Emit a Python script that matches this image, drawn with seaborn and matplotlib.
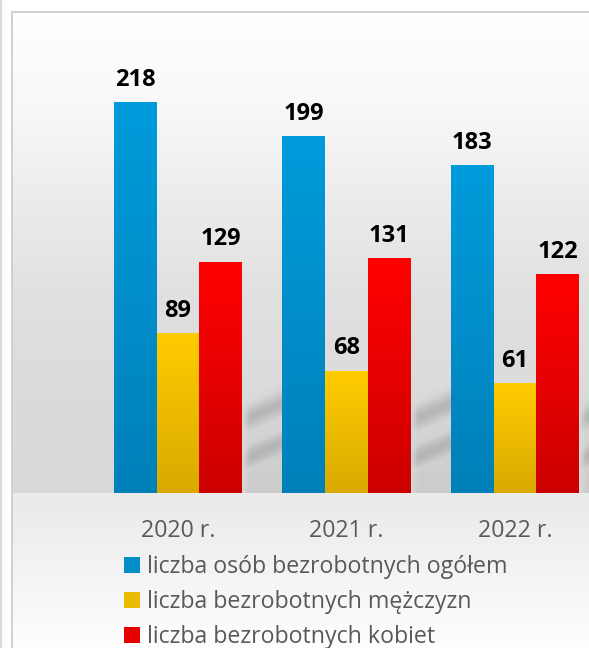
import numpy as np
import pandas as pd
import matplotlib
matplotlib.use("Agg")
import matplotlib.pyplot as plt
import seaborn as sns
from matplotlib.colors import LinearSegmentedColormap
from matplotlib.lines import Line2D
from matplotlib.patches import Patch

# ---------------- data ----------------
years = ["2020 r.", "2021 r.", "2022 r."]
series = ["liczba osób bezrobotnych ogółem",
          "liczba bezrobotnych mężczyzn",
          "liczba bezrobotnych kobiet"]
total = [218, 199, 183]
men = [89, 68, 61]
women = [129, 131, 122]
top_colors = ["#009bdb", "#ffcc00", "#ff0000"]
bottom_colors = ["#0080b9", "#d9a900", "#cc0000"]

df = pd.DataFrame({
    "year": years * 3,
    "series": np.repeat(series, 3),
    "value": total + men + women,
})

sns.set_theme(style="white")
plt.rcParams['font.family'] = ['Open Sans', 'DejaVu Sans']

W, H = 589, 648
fig = plt.figure(figsize=(W / 100, H / 100), dpi=100)
fig.patch.set_facecolor("white")

# background axes (pixel coordinates, y downward)
bg = fig.add_axes([12 / W, 0, 1 - 12 / W, (H - 12) / H])
bg.set_axis_off()

# main axes
ax = fig.add_axes([12 / W, (H - 493) / H, 1 - 12 / W, (493 - 12) / H])
ax.patch.set_alpha(0)
sns.barplot(data=df, x="year", y="value", hue="series", palette=top_colors,
            width=0.76, saturation=1, ax=ax, legend=False)
XL = (-0.985, 2.439)
YL = (0, 481 / 1.789)

grad = np.linspace(0, 1, 256).reshape(-1, 1)
for i, cont in enumerate(ax.containers):
    cmap = LinearSegmentedColormap.from_list(f"g{i}", [bottom_colors[i], top_colors[i]])
    for bar in cont:
        x0, y0 = bar.get_x(), bar.get_y()
        w, h = bar.get_width(), bar.get_height()
        ax.imshow(grad, cmap=cmap, extent=[x0, x0 + w, y0, y0 + h], origin="lower",
                  aspect="auto", zorder=2, clip_path=bar, interpolation="bilinear")
        bar.set_facecolor("none")
        bar.set_edgecolor("none")
    ax.bar_label(cont, labels=[str(int(b.get_height())) for b in cont], padding=8,
                 fontsize=17, fontweight="bold", color="black", zorder=5)

ax.set_xlim(*XL)
ax.set_ylim(*YL)
ax.set_xlabel("")
ax.set_ylabel("")
ax.set_yticks([])
ax.tick_params(axis="x", length=0, pad=19, labelsize=16.7, labelcolor="#595959")
for s in ax.spines.values():
    s.set_visible(False)

# ---------------- background gradient + shadows ----------------
ys = np.arange(12, H) + 0.5
xs = np.arange(12, W) + 0.5
ypts = [12, 100, 200, 300, 400, 493]
vpts = [255, 249, 236, 224, 219, 217]
col = np.where(ys < 493, np.interp(ys, ypts, vpts),
               np.interp(ys, [493, 500, H], [236, 234, 254]))
img = np.repeat(col[:, None], len(xs), axis=1)

# diagonal shadow streaks to the right of each group (derived from bar geometry)
mask = np.zeros_like(img)
XX, YY = np.meshgrid(xs, ys)
for j in range(len(years)):
    rights = []
    base_y = 0
    for cont in ax.containers:
        b = cont[j]
        px, py = ax.transData.transform((b.get_x() + b.get_width(), 0))
        rights.append(px)
        base_y = H - py
    xr = max(rights)
    fade_in = np.clip((XX - xr) / 8.0, 0, 1)
    region = (XX >= xr) & (XX <= xr + 70) & (YY <= base_y)
    for d in (72, 33):
        yline = base_y - d - 0.43 * (XX - xr)
        mask = np.maximum(mask, region * fade_in * np.exp(-0.5 * ((YY - yline) / 8.0) ** 2))
    near = region * fade_in * np.clip(1 - (base_y - YY) / 110, 0, 1) * 0.4
    mask = np.maximum(mask, near)

img = img - 36 * mask
img = np.clip(img, 0, 255) / 255.0
bg.imshow(np.dstack([img, img, img]), extent=[12, W, H, 12], aspect="auto",
          interpolation="bilinear", zorder=0)
bg.set_xlim(12, W)
bg.set_ylim(H, 12)

# ---------------- frame lines ----------------
fig.add_artist(Line2D([1 / W, 1 / W], [0, 1], color="#d9d9d9", lw=1.5))
fig.add_artist(Line2D([11.5 / W, 11.5 / W], [0, (H - 11.5) / H], color="#d0d0d0", lw=1.4))
fig.add_artist(Line2D([11.5 / W, 1], [(H - 11.5) / H, (H - 11.5) / H], color="#d0d0d0", lw=1.4))

# ---------------- legend ----------------
mid_colors = ["#008ec9", "#ecbb00", "#e60000"]
handles = [Patch(facecolor=c, edgecolor="none") for c in mid_colors]
fig.legend(handles, series, loc="upper left", bbox_to_anchor=(124 / W, (H - 555) / H),
           frameon=False, fontsize=16.7, labelcolor="#595959", handlelength=0.7,
           handleheight=0.7, handletextpad=0.3, labelspacing=0.47, borderpad=0,
           borderaxespad=0)

fig.savefig("out.png", dpi=100)
